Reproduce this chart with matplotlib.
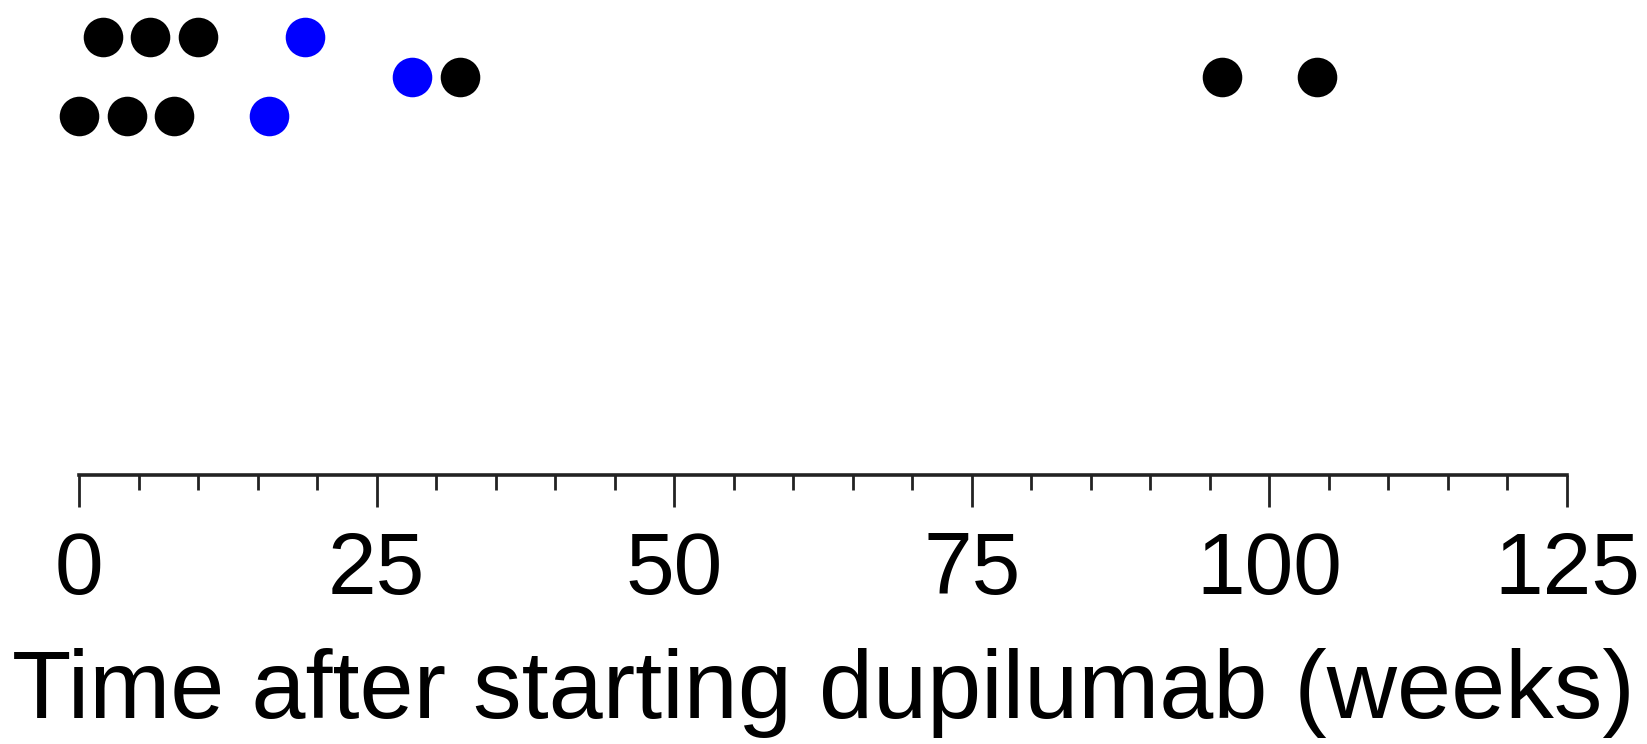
import matplotlib
matplotlib.use("Agg")
import matplotlib.pyplot as plt
from matplotlib.ticker import MultipleLocator

plt.rcParams['font.family'] = ['Liberation Sans', 'DejaVu Sans']

# Data: event times (weeks) and the row each falls in
black_x = [2, 6, 10, 32, 96, 104, 0, 4, 8]
black_y = [3, 3, 3, 2, 2, 2, 1, 1, 1]
blue_x = [19, 28, 16]
blue_y = [3, 2, 1]

major_ticks = [0, 25, 50, 75, 100, 125]
xlabel = "Time after starting dupilumab (weeks)"

fig = plt.figure(figsize=(16.47, 7.44), dpi=100)
ax = fig.add_axes([79 / 1647, (744 - 475) / 744, (1567 - 79) / 1647, 475 / 744])

ms = 28.5
ax.plot(black_x, black_y, 'o', color='black', markersize=ms, markeredgewidth=0, clip_on=False)
ax.plot(blue_x, blue_y, 'o', color='#0000FF', markersize=ms, markeredgewidth=0, clip_on=False)

ax.set_xlim(0, 125)
ax.set_ylim(-8.09, 3.94)

for s in ['top', 'right', 'left']:
    ax.spines[s].set_visible(False)
ax.spines['bottom'].set_linewidth(2.6)
ax.spines['bottom'].set_color('#222222')
ax.set_yticks([])

ax.set_xticks(major_ticks)
ax.set_xticklabels([str(t) for t in major_ticks])
ax.xaxis.set_minor_locator(MultipleLocator(5))
ax.tick_params(axis='x', which='major', length=23, width=2, color='#222222',
               labelsize=63, pad=17)
ax.tick_params(axis='x', which='minor', length=11, width=2, color='#222222')
ax.set_xlabel(xlabel, fontsize=70, labelpad=26)

fig.savefig("out.png", dpi=100, facecolor='white')
